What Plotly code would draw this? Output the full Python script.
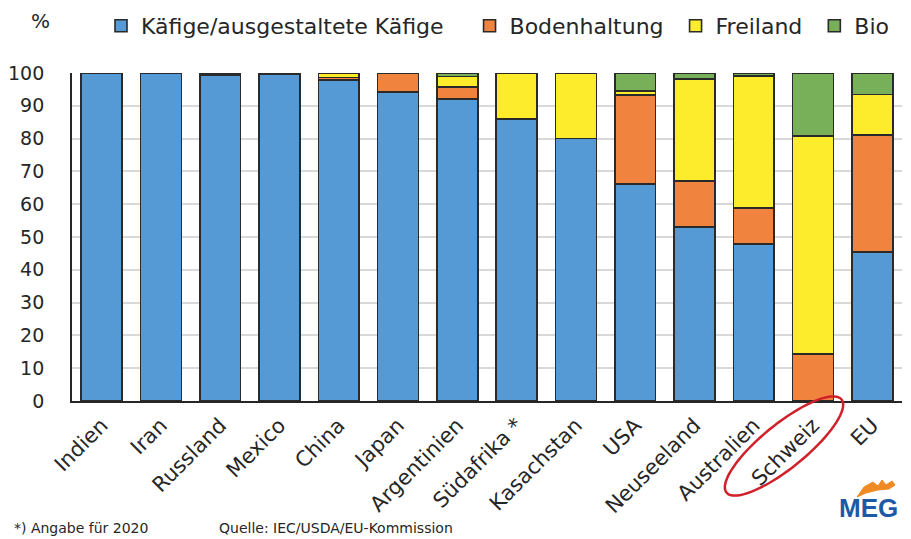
import numpy as np
import plotly.graph_objects as go

categories = ["Indien", "Iran", "Russland", "Mexico", "China", "Japan", "Argentinien",
              "Südafrika *", "Kasachstan", "USA", "Neuseeland", "Australien", "Schweiz", "EU"]
kaefige = [100, 100, 99.4, 99.6, 97.9, 94.3, 92.1, 86, 80, 66.1, 53, 47.9, 0, 45.4]
boden = [0, 0, 0.6, 0.4, 0.7, 5.5, 3.7, 0, 0, 27.2, 14.1, 11.0, 14.3, 35.7]
freiland = [0, 0, 0, 0, 1.2, 0.1, 3.1, 14, 20, 1.2, 31.0, 40.2, 66.5, 12.4]
bio = [0, 0, 0, 0, 0.2, 0.1, 1.1, 0, 0, 5.5, 1.9, 0.9, 19.2, 6.5]

series_names = ["Käfige/ausgestaltete Käfige", "Bodenhaltung", "Freiland", "Bio"]
series_values = [kaefige, boden, freiland, bio]
colors = ["#559AD4", "#F0843F", "#FDEC2B", "#77B058"]
y_ticks = list(range(0, 101, 10))

# the page body adds an 8px offset; work in screenshot pixels and shift
OFF = 8
W, H = 911 - OFF, 539 - OFF
L, R, T, B = 72 - OFF, 902 - OFF, 73 - OFF, 401 - OFF
FONT = "DejaVu Sans, Liberation Sans, Arial, sans-serif"
NB = "\u00a0"
legend_pad = [3, 1, 1, 0]


def px(x):
    return (x - OFF - L) / (R - L)


def py(y):
    return (B - (y - OFF)) / (B - T)


fig = go.Figure()
for name, vals, col, pad in zip(series_names, series_values, colors, legend_pad):
    fig.add_trace(go.Bar(
        x=categories, y=vals, name=name + NB * pad,
        marker=dict(color=col, line=dict(color="#2A2A2A", width=1.6)),
        cliponaxis=False,
    ))

# red ellipse around "Schweiz"
cx, cy = 784, 446
a, b = 74, 22
ang = np.deg2rad(-39)
t = np.linspace(0, 2 * np.pi, 80)
ex = cx + a * np.cos(t) * np.cos(ang) - b * np.sin(t) * np.sin(ang)
ey = cy + a * np.cos(t) * np.sin(ang) + b * np.sin(t) * np.cos(ang)
path = "M" + " L".join(f"{px(x):.4f},{py(y):.4f}" for x, y in zip(ex, ey)) + " Z"

# logo flame
flame = [(857, 497), (864, 487), (873, 482), (878, 486), (882, 480), (886, 485),
         (892, 481), (895, 485), (889, 489), (878, 490), (866, 493)]
fpath = "M" + " L".join(f"{px(x):.4f},{py(y):.4f}" for x, y in flame) + " Z"

fig.update_layout(
    width=W, height=H,
    margin=dict(l=L, r=W - R, t=T, b=H - B, pad=0, autoexpand=False),
    paper_bgcolor="white", plot_bgcolor="white",
    barmode="stack", bargap=0.31,
    font=dict(family=FONT, color="#262626"),
    showlegend=True,
    legend=dict(orientation="h", xref="container", yref="container",
                x=(101 - OFF) / W, xanchor="left", y=1 - (26 - OFF) / H, yanchor="middle",
                font=dict(size=22, color="#262626", family=FONT), traceorder="normal",
                itemwidth=30, tracegroupgap=0, bgcolor="rgba(0,0,0,0)"),
    xaxis=dict(tickangle=-45, tickfont=dict(size=21, color="#262626"),
               showline=True, linecolor="#262626", linewidth=1.5, automargin=False,
               ticks="", showgrid=False, ticklabelstandoff=2),
    yaxis=dict(range=[0, 100], tickvals=y_ticks, tickfont=dict(size=19, color="#262626"),
               showline=True, linecolor="#262626", linewidth=1.8, automargin=False,
               showgrid=True, gridcolor="#D9D9D9", gridwidth=1.5,
               zeroline=False, ticks="", ticklabelstandoff=22),
    shapes=[
        dict(type="path", xref="paper", yref="paper", path=path,
             line=dict(color="#D0202A", width=2.5), fillcolor="rgba(0,0,0,0)"),
        dict(type="path", xref="paper", yref="paper", path=fpath,
             line=dict(color="#F08A24", width=1), fillcolor="#F08A24"),
    ],
    annotations=[
        dict(text="%", x=px(40), y=py(21), xref="paper", yref="paper",
             showarrow=False, font=dict(size=20, color="#262626"), xanchor="center", yanchor="middle"),
        dict(text="*) Angabe für 2020", x=px(12), y=py(528), xref="paper", yref="paper",
             showarrow=False, font=dict(size=14, color="#262626"), xanchor="left", yanchor="middle"),
        dict(text="Quelle: IEC/USDA/EU-Kommission", x=px(217), y=py(528), xref="paper", yref="paper",
             showarrow=False, font=dict(size=14, color="#262626"), xanchor="left", yanchor="middle"),
        dict(text="<b>MEG</b>", x=px(868), y=py(508), xref="paper", yref="paper",
             showarrow=False, font=dict(size=26, color="#1D5AA6", family="Liberation Sans Narrow, Liberation Sans, Arial"),
             xanchor="center", yanchor="middle"),
    ],
)

fig.write_html("out.html")
